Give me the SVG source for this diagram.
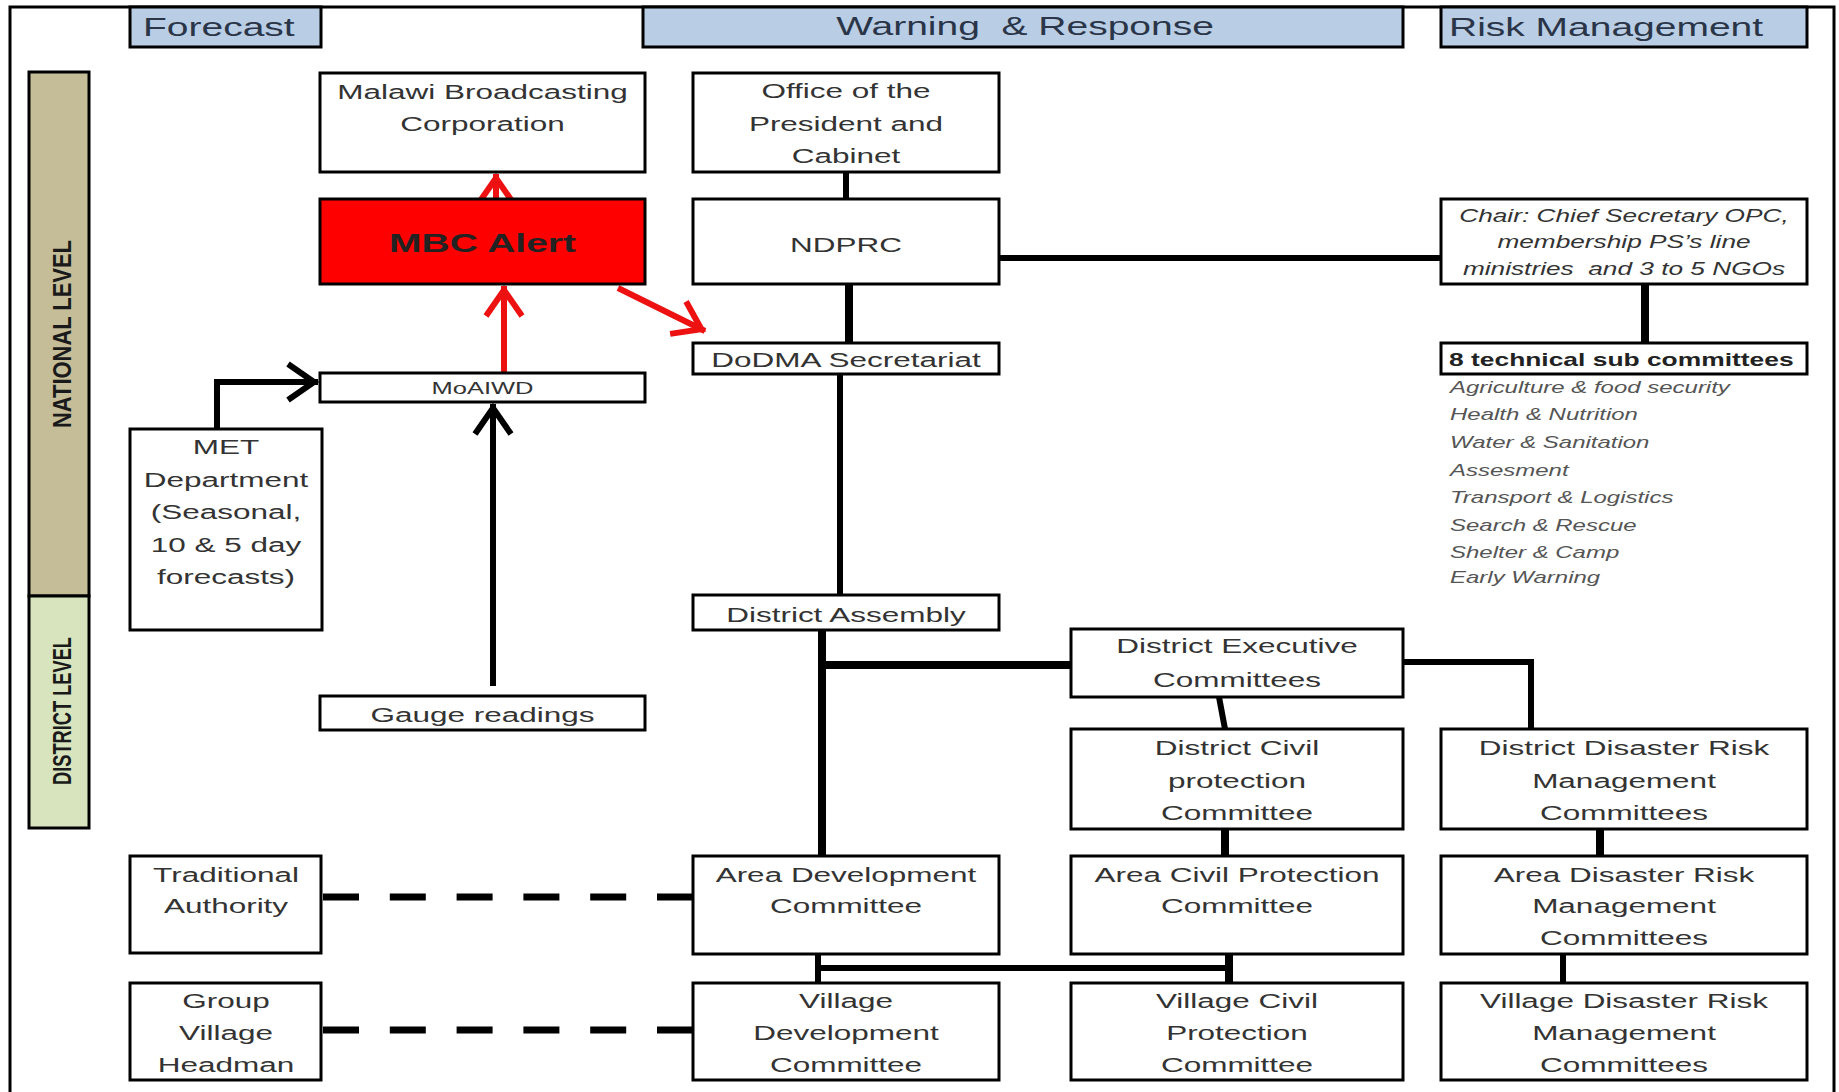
<svg xmlns="http://www.w3.org/2000/svg" width="1839" height="1092" viewBox="0 0 1839 1092">
<style>
.box{fill:#fff;stroke:#000;stroke-width:3}
.hdr{fill:#b9cde5;stroke:#000;stroke-width:3}
.t{font-family:"Liberation Sans",Arial,sans-serif;font-size:21px;fill:#333;text-anchor:middle}
.h{font-family:"Liberation Sans",Arial,sans-serif;font-size:26px;fill:#2a3548}
.lv{font-family:"Liberation Sans",Arial,sans-serif;font-size:26px;font-weight:bold;fill:#1a1a1a;text-anchor:middle}
.it{font-family:"Liberation Sans",Arial,sans-serif;font-style:italic;fill:#333}
.li{font-family:"Liberation Sans",Arial,sans-serif;font-style:italic;font-size:16px;fill:#555}
.c{fill:none;stroke:#000;stroke-width:6}
.c8{fill:none;stroke:#000;stroke-width:8}
.d{fill:none;stroke:#000;stroke-width:7;stroke-dasharray:36 30.8}
.a{fill:none;stroke:#000;stroke-width:6;marker-end:url(#ahk)}
.r{fill:none;stroke:#ee1111;stroke-width:6;marker-end:url(#ahr)}
</style>
<defs>
<marker id="ahk" markerUnits="userSpaceOnUse" viewBox="-34 -26 42 52" markerWidth="42" markerHeight="52" refX="0" refY="0" orient="auto">
<path d="M-30,-18 L-4,0 L-30,18" fill="none" stroke="#000" stroke-width="6"/>
</marker>
<marker id="ahr" markerUnits="userSpaceOnUse" viewBox="-34 -26 42 52" markerWidth="42" markerHeight="52" refX="0" refY="0" orient="auto">
<path d="M-30,-18 L-4,0 L-30,18" fill="none" stroke="#ee1111" stroke-width="6"/>
</marker>
</defs>
<rect x="0" y="0" width="1839" height="1092" fill="#fff"/>
<rect x="10" y="7" width="1824" height="1100" fill="none" stroke="#000" stroke-width="3"/>

<g id="header-forecast"><rect class="hdr" x="130" y="7" width="191" height="40"/><text class="h" transform="matrix(1.5 0 0 1 143 0)" x="0" y="36">Forecast</text></g>
<g id="header-warning"><rect class="hdr" x="643" y="7" width="760" height="40"/><text class="h" xml:space="preserve" text-anchor="middle" transform="matrix(1.5 0 0 1 1025 0)" x="0" y="35">Warning  &amp; Response</text></g>
<g id="header-risk"><rect class="hdr" x="1441" y="7" width="366" height="40"/><text class="h" transform="matrix(1.5 0 0 1 1449 0)" x="0" y="36">Risk Management</text></g>

<g id="national-level"><rect x="29" y="72" width="60" height="524" fill="#c4bd97" stroke="#000" stroke-width="3"/><text class="lv" transform="translate(71,334) rotate(-90)" x="0" y="0" textLength="188" lengthAdjust="spacingAndGlyphs">NATIONAL LEVEL</text></g>
<g id="district-level"><rect x="29" y="596" width="60" height="232" fill="#d7e4bd" stroke="#000" stroke-width="3"/><text class="lv" transform="translate(71,711) rotate(-90)" x="0" y="0" textLength="148" lengthAdjust="spacingAndGlyphs">DISTRICT LEVEL</text></g>

<g id="connectors">
<line class="c" x1="846" y1="172" x2="846" y2="199"/>
<line class="c8" x1="849" y1="284" x2="849" y2="343"/>
<line class="c" x1="999" y1="258" x2="1441" y2="258"/>
<line class="c8" x1="1645" y1="284" x2="1645" y2="343"/>
<line class="c" x1="840" y1="374" x2="840" y2="595"/>
<line class="c8" x1="822" y1="630" x2="822" y2="856"/>
<line class="c8" x1="822" y1="665" x2="1071" y2="665"/>
<line class="c" x1="1219" y1="697" x2="1225" y2="729"/>
<polyline class="c" points="1403,662 1531,662 1531,729"/>
<line class="c8" x1="1225" y1="829" x2="1225" y2="856"/>
<line class="c8" x1="1600" y1="829" x2="1600" y2="856"/>
<line class="c" x1="818" y1="954" x2="818" y2="983"/>
<line class="c" x1="818" y1="968" x2="1229" y2="968"/>
<line class="c8" x1="1229" y1="954" x2="1229" y2="983"/>
<line class="c" x1="1563" y1="954" x2="1563" y2="983"/>
<line class="d" x1="323" y1="897" x2="693" y2="897"/>
<line class="d" x1="323" y1="1030" x2="693" y2="1030"/>
<path class="a" d="M217,429 V382 H318"/>
<path class="a" d="M493,686 V404"/>
<path class="r" d="M504,373 V286"/>
<path class="r" d="M496,199 V174"/>
<path class="r" d="M618,288 L705,331"/>
</g>

<g id="mbc"><rect class="box" x="320" y="73" width="325" height="99"/><text class="t" transform="matrix(1.5 0 0 1 482.5 0)"><tspan x="0" y="99">Malawi Broadcasting</tspan><tspan x="0" y="131">Corporation</tspan></text></g>
<g id="mbc-alert"><rect x="320" y="199" width="325" height="85" fill="#ff0000" stroke="#000" stroke-width="3"/><text class="t" transform="matrix(1.5 0 0 1 482.5 0)" x="0" y="252" style="font-size:26px;font-weight:bold;fill:#222">MBC Alert</text></g>
<g id="moaiwd"><rect class="box" x="320" y="373" width="325" height="29"/><text class="t" transform="matrix(1.5 0 0 1 482.5 0)" x="0" y="394" style="font-size:17px">MoAIWD</text></g>
<g id="met"><rect class="box" x="130" y="429" width="192" height="201"/><text class="t" transform="matrix(1.5 0 0 1 226 0)"><tspan x="0" y="454">MET</tspan><tspan x="0" y="487">Department</tspan><tspan x="0" y="519">(Seasonal,</tspan><tspan x="0" y="552">10 &amp; 5 day</tspan><tspan x="0" y="584">forecasts)</tspan></text></g>
<g id="gauge"><rect class="box" x="320" y="696" width="325" height="34"/><text class="t" transform="matrix(1.5 0 0 1 482.5 0)" x="0" y="722">Gauge readings</text></g>

<g id="opc"><rect class="box" x="693" y="73" width="306" height="99"/><text class="t" transform="matrix(1.5 0 0 1 846 0)"><tspan x="0" y="98">Office of the</tspan><tspan x="0" y="131">President and</tspan><tspan x="0" y="163">Cabinet</tspan></text></g>
<g id="ndprc"><rect class="box" x="693" y="199" width="306" height="85"/><text class="t" transform="matrix(1.5 0 0 1 846 0)" x="0" y="252">NDPRC</text></g>
<g id="dodma"><rect class="box" x="693" y="343" width="306" height="31"/><text class="t" transform="matrix(1.5 0 0 1 846 0)" x="0" y="367">DoDMA Secretariat</text></g>
<g id="district-assembly"><rect class="box" x="693" y="595" width="306" height="35"/><text class="t" transform="matrix(1.5 0 0 1 846 0)" x="0" y="622">District Assembly</text></g>

<g id="chair"><rect class="box" x="1441" y="199" width="366" height="85"/><text class="it" xml:space="preserve" text-anchor="middle" transform="matrix(1.5 0 0 1 1624 0)" style="font-size:17.5px"><tspan x="0" y="222">Chair: Chief Secretary OPC,</tspan><tspan x="0" y="248">membership PS’s line</tspan><tspan x="0" y="275">ministries  and 3 to 5 NGOs</tspan></text></g>
<g id="tech-sub"><rect class="box" x="1441" y="343" width="366" height="31"/><text class="t" transform="matrix(1.5 0 0 1 1449 0)" x="0" y="366" style="font-size:17.6px;font-weight:bold;text-anchor:start;fill:#222">8 technical sub committees</text></g>
<g id="tech-list"><text class="li" transform="matrix(1.5 0 0 1 1450 0)"><tspan x="0" y="393">Agriculture &amp; food security</tspan><tspan x="0" y="420">Health &amp; Nutrition</tspan><tspan x="0" y="448">Water &amp; Sanitation</tspan><tspan x="0" y="476">Assesment</tspan><tspan x="0" y="503">Transport &amp; Logistics</tspan><tspan x="0" y="531">Search &amp; Rescue</tspan><tspan x="0" y="558">Shelter &amp; Camp</tspan><tspan x="0" y="583">Early Warning</tspan></text></g>

<g id="dec"><rect class="box" x="1071" y="629" width="332" height="68"/><text class="t" transform="matrix(1.5 0 0 1 1237 0)"><tspan x="0" y="653">District Executive</tspan><tspan x="0" y="687">Committees</tspan></text></g>
<g id="dcpc"><rect class="box" x="1071" y="729" width="332" height="100"/><text class="t" transform="matrix(1.5 0 0 1 1237 0)"><tspan x="0" y="755">District Civil</tspan><tspan x="0" y="788">protection</tspan><tspan x="0" y="820">Committee</tspan></text></g>
<g id="ddrm"><rect class="box" x="1441" y="729" width="366" height="100"/><text class="t" transform="matrix(1.5 0 0 1 1624 0)"><tspan x="0" y="755">District Disaster Risk</tspan><tspan x="0" y="788">Management</tspan><tspan x="0" y="820">Committees</tspan></text></g>

<g id="ta"><rect class="box" x="130" y="856" width="191" height="97"/><text class="t" transform="matrix(1.5 0 0 1 226 0)"><tspan x="0" y="882">Traditional</tspan><tspan x="0" y="913">Authority</tspan></text></g>
<g id="adc"><rect class="box" x="693" y="856" width="306" height="98"/><text class="t" transform="matrix(1.5 0 0 1 846 0)"><tspan x="0" y="882">Area Development</tspan><tspan x="0" y="913">Committee</tspan></text></g>
<g id="acpc"><rect class="box" x="1071" y="856" width="332" height="98"/><text class="t" transform="matrix(1.5 0 0 1 1237 0)"><tspan x="0" y="882">Area Civil Protection</tspan><tspan x="0" y="913">Committee</tspan></text></g>
<g id="adrm"><rect class="box" x="1441" y="856" width="366" height="98"/><text class="t" transform="matrix(1.5 0 0 1 1624 0)"><tspan x="0" y="882">Area Disaster Risk</tspan><tspan x="0" y="913">Management</tspan><tspan x="0" y="945">Committees</tspan></text></g>

<g id="gvh"><rect class="box" x="130" y="983" width="191" height="97"/><text class="t" transform="matrix(1.5 0 0 1 226 0)"><tspan x="0" y="1008">Group</tspan><tspan x="0" y="1040">Village</tspan><tspan x="0" y="1072">Headman</tspan></text></g>
<g id="vdc"><rect class="box" x="693" y="983" width="306" height="97"/><text class="t" transform="matrix(1.5 0 0 1 846 0)"><tspan x="0" y="1008">Village</tspan><tspan x="0" y="1040">Development</tspan><tspan x="0" y="1072">Committee</tspan></text></g>
<g id="vcpc"><rect class="box" x="1071" y="983" width="332" height="97"/><text class="t" transform="matrix(1.5 0 0 1 1237 0)"><tspan x="0" y="1008">Village Civil</tspan><tspan x="0" y="1040">Protection</tspan><tspan x="0" y="1072">Committee</tspan></text></g>
<g id="vdrm"><rect class="box" x="1441" y="983" width="366" height="97"/><text class="t" transform="matrix(1.5 0 0 1 1624 0)"><tspan x="0" y="1008">Village Disaster Risk</tspan><tspan x="0" y="1040">Management</tspan><tspan x="0" y="1072">Committees</tspan></text></g>
</svg>
